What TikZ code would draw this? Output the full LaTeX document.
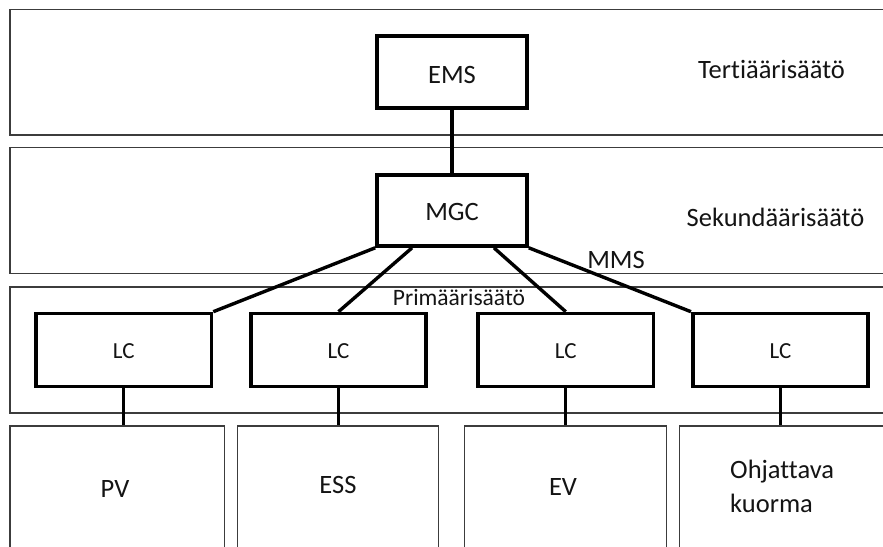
\documentclass[tikz,border=0pt]{standalone}
\usepackage{fontspec}
\setmainfont{Carlito}[Ligatures={NoCommon}]
\usetikzlibrary{calc}
\definecolor{bandgray}{HTML}{3C3C3C}
\definecolor{txt}{HTML}{141414}
\begin{document}
\begin{tikzpicture}[x=1pt,y=-1pt,
  band/.style={draw=bandgray, line width=1.3pt, rectangle, inner sep=0pt},
  ctrl/.style={draw=black, line width=3.6pt, rectangle, inner sep=0pt, text=txt,
    font=\fontsize{26.5}{31}\selectfont, text depth=0pt},
  lcbox/.style={ctrl, minimum width=175.5pt, minimum height=73pt,
    font=\fontsize{23}{27}\selectfont, text height=16pt},
  link/.style={draw=black, line width=3.4pt},
  lbl/.style={inner sep=0pt, anchor=base, text=txt, font=\fontsize{26.5}{34}\selectfont}
]
\useasboundingbox (0,0) rectangle (883,546);
\clip (0,0) rectangle (883,546);
\fill[white] (0,0) rectangle (883,546);

% layer bands
\node[band, minimum width=890pt, minimum height=125.5pt] (tert) at (455,72.25) {};
\node[band, minimum width=890pt, minimum height=126pt] (sek) at (455,210.5) {};
\node[band, minimum width=890pt, minimum height=126pt] (prim) at (455,350) {};

% unit boxes at the bottom
\node[band, minimum width=214.5pt, minimum height=174pt] (pv) at (117.25,513) {};
\node[band, minimum width=201.4pt, minimum height=174pt] (ess) at (338,513) {};
\node[band, minimum width=202.4pt, minimum height=174pt] (ev) at (565.5,513) {};
\node[band, minimum width=220.7pt, minimum height=174pt] (load) at (789.65,513) {};

% controllers
\node[ctrl, minimum width=150pt, minimum height=72pt, text height=22pt] (ems) at (452,72) {EMS};
\node[ctrl, minimum width=150pt, minimum height=71pt, text height=19pt] (mgc) at (452,210.5) {MGC};
\node[lcbox] (lc1) at (123.75,350) {LC};
\node[lcbox] (lc2) at (338.5,350) {LC};
\node[lcbox] (lc3) at (565.75,350) {LC};
\node[lcbox] (lc4) at (780.5,350) {LC};

% connectors
\draw[link] (ems.south) -- (mgc.north);
\draw[link] (mgc.south west) -- (lc1.north east);
\draw[link] ($(mgc.south west)!0.24!(mgc.south east)$) -- (lc2.north);
\draw[link] ($(mgc.south west)!0.773!(mgc.south east)$) -- (lc3.north);
\draw[link] (mgc.south east) -- (lc4.north west);
\draw[link] (lc1.south) -- (lc1.south |- pv.north);
\draw[link] (lc2.south) -- (lc2.south |- ess.north);
\draw[link] (lc3.south) -- (lc3.south |- ev.north);
\draw[link] (lc4.south) -- (lc4.south |- load.north);

% labels
\node[lbl] (tertlbl) at (771.5,78) {Tertiäärisäätö};
\node[lbl] (seklbl) at (775.5,226) {Sekundäärisäätö};
\node[lbl] (mmslbl) at (616,268) {MMS};
\node[lbl, font=\fontsize{23.5}{28}\selectfont] (primlbl) at (459,305) {Primäärisäätö};
\node[lbl] (pvlbl) at (115,497) {PV};
\node[lbl] (esslbl) at (338,493) {ESS};
\node[lbl] (evlbl) at (563,495) {EV};
\node[lbl, anchor=base west, align=left] (loadlbl) at (730,512) {Ohjattava\\kuorma};
\end{tikzpicture}
\end{document}
